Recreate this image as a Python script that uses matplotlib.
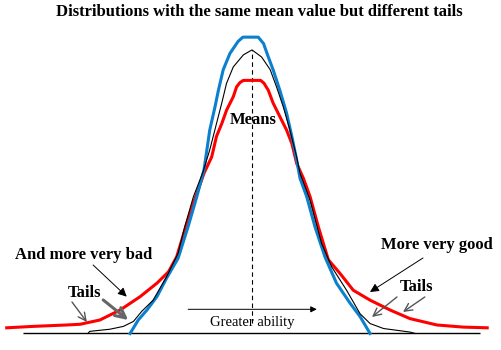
import matplotlib
matplotlib.use("Agg")
import matplotlib.pyplot as plt

# ability in standard deviations from the mean, height as density
x_normal = [-3.42, -3.38, -2.96, -2.68, -2.47, -2.30, -2.06, -1.78, -1.54, -1.40,
            -1.22, -1.02, -0.88, -0.74, -0.63, -0.53, -0.39, -0.18, 0.00,
            0.20, 0.38, 0.51, 0.65, 0.79, 0.93, 1.00, 1.21, 1.45, 1.66,
            1.97, 2.25, 2.46, 2.74, 3.29, 3.40]
y_normal = [0.000, 0.003, 0.006, 0.010, 0.017, 0.031, 0.047, 0.080, 0.113, 0.151,
            0.193, 0.228, 0.259, 0.296, 0.325, 0.353, 0.376, 0.393, 0.400,
            0.390, 0.372, 0.348, 0.320, 0.287, 0.249, 0.226, 0.188, 0.127, 0.094,
            0.061, 0.028, 0.014, 0.007, 0.002, 0.000]

x_thin = [-2.54, -2.37, -2.19, -1.98, -1.78, -1.54, -1.33, -1.15, -1.00, -0.94,
          -0.88, -0.77, -0.70, -0.60, -0.46, -0.29, -0.19, 0.13, 0.24, 0.34,
          0.44, 0.58, 0.72, 0.83, 0.93, 1.00, 1.14, 1.31, 1.52, 1.76, 2.04,
          2.25, 2.46]
y_thin = [0.000, 0.019, 0.033, 0.052, 0.078, 0.106, 0.151, 0.193, 0.231, 0.259,
          0.287, 0.320, 0.343, 0.372, 0.395, 0.412, 0.418, 0.418, 0.409, 0.390,
          0.372, 0.343, 0.311, 0.278, 0.245, 0.219, 0.193, 0.151, 0.108, 0.071, 0.043,
          0.024, 0.000]

x_fat = [-5.11, -4.56, -3.86, -3.58, -3.17, -2.75, -2.33, -1.98, -1.74, -1.57,
         -1.40, -1.22, -1.00, -0.84, -0.74, -0.63, -0.53, -0.39, -0.32, -0.25, -0.18,
         0.18, 0.25, 0.34, 0.44, 0.58, 0.72, 0.83, 0.93, 1.07, 1.21, 1.38, 1.59,
         1.83, 2.11, 2.46, 2.88, 3.29, 3.85, 4.40, 4.90]
y_fat = [0.008, 0.010, 0.012, 0.013, 0.019, 0.033, 0.052, 0.071, 0.087, 0.108,
         0.146, 0.184, 0.226, 0.249, 0.278, 0.296, 0.315, 0.334, 0.348, 0.354, 0.357,
         0.357, 0.353, 0.343, 0.325, 0.306, 0.287, 0.268, 0.240, 0.219, 0.193, 0.151, 0.104,
         0.085, 0.061, 0.047, 0.033, 0.021, 0.012, 0.009, 0.008]

title = "Distributions with the same mean value but different tails"

plt.rcParams['font.family'] = ['Liberation Serif', 'DejaVu Serif']

fig = plt.figure(figsize=(5.01, 3.5), dpi=100)
ax = fig.add_axes([0, 0, 1, 1])
ax.set_xlim(-5.25, 5.1875)
ax.set_ylim(-0.0233, 0.4704)
ax.axis('off')

# baseline and the mean
ax.hlines(0, -4.77, 4.75, color='black', lw=1.0)
ax.vlines(0, 0.0148, 0.400, color='black', lw=0.8, linestyles=(0, (4, 3)))

ax.plot(x_fat, y_fat, color='#ff0000', lw=2.2)
ax.plot(x_thin, y_thin, color='#0b80cf', lw=2.2)
ax.plot(x_normal, y_normal, color='black', lw=0.8)

# labels
ax.text(0.146, 0.4535, title, ha='center', va='center', fontsize=12, fontweight='bold')
ax.text(0.03, 0.301, "Means", ha='center', va='center', fontsize=12, fontweight='bold')
ax.text(-3.5, 0.1107, "And more very bad", ha='center', va='center', fontsize=12, fontweight='bold')
ax.text(3.844, 0.1248, "More very good", ha='center', va='center', fontsize=12, fontweight='bold')
ax.text(-3.49, 0.0571, "Tails", ha='center', va='center', fontsize=12, fontweight='bold')
ax.text(3.417, 0.0656, "Tails", ha='center', va='center', fontsize=12, fontweight='bold')
ax.text(0.0, 0.0148, "Greater ability", ha='center', va='center', fontsize=10.5)

# arrows
black_arrow = dict(arrowstyle='-|>', color='black', lw=0.7, mutation_scale=13, shrinkA=0, shrinkB=0)
ax.annotate("", xy=(1.35, 0.0341), xytext=(-1.33, 0.0341),
            arrowprops=dict(black_arrow, mutation_scale=9))
ax.annotate("", xy=(-2.61, 0.052), xytext=(-3.31, 0.0966), arrowprops=black_arrow)
ax.annotate("", xy=(2.458, 0.0585), xytext=(3.5625, 0.1065), arrowprops=black_arrow)

grey_arrow = dict(arrowstyle='->', color='#555555', lw=1.0, mutation_scale=14, shrinkA=0, shrinkB=0)
ax.annotate("", xy=(-3.44, 0.0162), xytext=(-3.75, 0.0444), arrowprops=grey_arrow)
ax.annotate("", xy=(2.5, 0.0233), xytext=(3.02, 0.0515), arrowprops=grey_arrow)
ax.annotate("", xy=(3.146, 0.0303), xytext=(3.60, 0.0515), arrowprops=grey_arrow)
ax.annotate("", xy=(-2.58, 0.019), xytext=(-3.10, 0.0473),
            arrowprops=dict(arrowstyle='->', color='#666666', lw=2.2, mutation_scale=18,
                            shrinkA=0, shrinkB=0))

fig.savefig("out.png", dpi=100)
